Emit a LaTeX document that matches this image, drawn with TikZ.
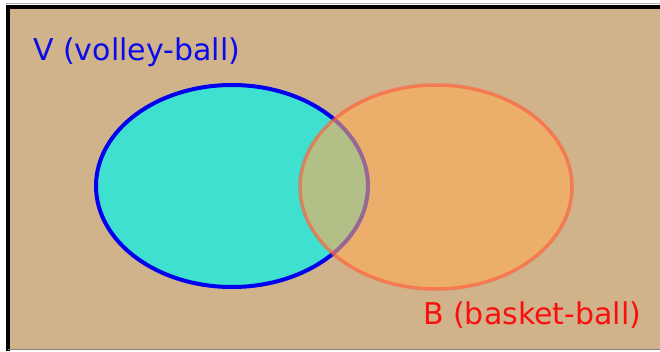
\documentclass[tikz,border=0pt]{standalone}
\usepackage{fontspec}
\setmainfont{DejaVu Sans}
\definecolor{tanbg}{RGB}{208,179,138}
\definecolor{turq}{RGB}{64,224,208}
\definecolor{vblue}{RGB}{0,0,240}
\definecolor{bfill}{RGB}{255,172,87}
\definecolor{bline}{RGB}{255,95,60}
\definecolor{vtext}{RGB}{10,10,235}
\definecolor{btext}{RGB}{250,15,15}
\tikzset{
  setlabel/.style={inner sep=0pt, anchor=base west, font=\fontsize{30}{34}\selectfont},
}
\begin{document}
\begin{tikzpicture}[x=1pt,y=-1pt]
\useasboundingbox (0,0) rectangle (660,351);
\fill[white] (0,0) rectangle (660,351);
\fill[tanbg] (8,6) rectangle (660,349);
\draw[black, line width=4pt] (8,351) -- (8,6.5) -- (660,6.5);
\draw[gray, line width=1pt] (8,349.5) -- (660,349.5);
\draw[gray!60, line width=0.6pt] (6,3.5) -- (660,3.5);
% V set
\coordinate (vc) at (232,186);
\coordinate (bc) at (436,187);
\fill[turq] (vc) ellipse [x radius=136, y radius=101];
\draw[vblue, line width=4pt] (vc) ellipse [x radius=136, y radius=101];
% B set
\fill[bfill, opacity=0.6] (bc) ellipse [x radius=136, y radius=102];
\draw[bline, line width=3.5pt, opacity=0.65] (bc) ellipse [x radius=136, y radius=102];
% labels
\node[setlabel, text=vtext] (vlabel) at (33,60) {V (volley-ball)};
\node[setlabel, text=btext] (blabel) at (423,324) {B (basket-ball)};
\end{tikzpicture}
\end{document}
